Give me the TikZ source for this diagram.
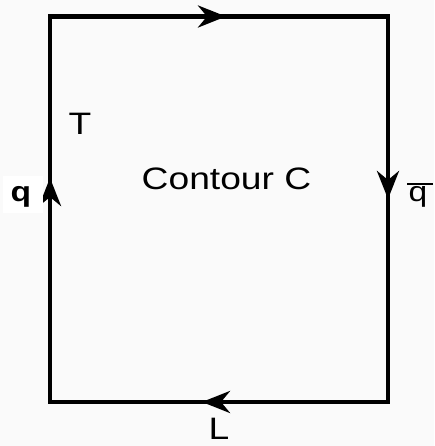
\documentclass[tikz,border=0pt]{standalone}
\usepackage{fontspec}
\setmainfont{Liberation Sans}
\usetikzlibrary{arrows.meta}
\definecolor{paper}{RGB}{250,250,250}
\tikzset{
  edge/.style={line width=4.5pt, line join=miter, line cap=rect},
  flow/.style={line width=4.5pt, -{Stealth[length=28pt,width=22pt,inset=9pt]}},
  lbl/.style={inner sep=0pt, font=\fontsize{31}{35}\selectfont},
  qlbl/.style={inner sep=0pt, font=\fontsize{28}{32}\selectfont},
}
\newcommand{\wide}[1]{\scalebox{1.2}[1]{#1}}
\begin{document}
\begin{tikzpicture}[x=1pt,y=1pt]
  % canvas
  \fill[paper] (0,0) rectangle (434,446);
  \useasboundingbox (0,0) rectangle (434,446);

  % corners of the contour
  \coordinate (tl) at (50,429.5);
  \coordinate (tr) at (388,429.5);
  \coordinate (br) at (388,44);
  \coordinate (bl) at (50,44);

  % the closed contour
  \draw[edge] (tl) -- (tr) -- (br) -- (bl) -- cycle;

  % direction arrows along each side
  \coordinate (topA) at (198,429.5);  \coordinate (topB) at (226,429.5);
  \coordinate (rgtA) at (388,275);    \coordinate (rgtB) at (388,247);
  \coordinate (botA) at (230,44);     \coordinate (botB) at (202,44);
  \coordinate (lftA) at (50,240);     \coordinate (lftB) at (50,268);
  \draw[flow] (topA) -- (topB);
  \draw[flow] (rgtA) -- (rgtB);
  \draw[flow] (botA) -- (botB);
  \draw[flow] (lftA) -- (lftB);

  % labels
  \node[lbl] (title) at (226.5,267) {\wide{Contour C}};
  \node[lbl] (tlab) at (80,322) {\wide{T}};
  \node[lbl, anchor=base] (llab) at (219,6) {\wide{L}};

  \fill[white] (3,233) rectangle (43,270);
  \node[qlbl, anchor=base] (qlab) at (21,244.5) {\wide{\bfseries q}};
  \node[qlbl, anchor=base] (qbar) at (418,244.5) {\wide{q}};
  \draw[line width=2.5pt] (407,262) -- (433,262);
\end{tikzpicture}
\end{document}
